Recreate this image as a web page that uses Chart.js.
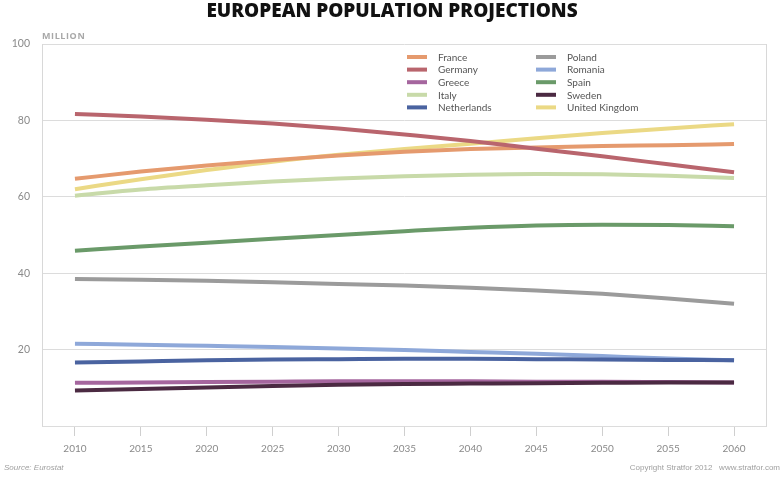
<!DOCTYPE html>
<html>
<head>
<meta charset="utf-8">
<script src="https://cdn.jsdelivr.net/npm/chart.js@4.4.1/dist/chart.umd.min.js"></script>
<style>
  html, body { margin: 0; padding: 0; background: #ffffff; }
  #wrap { width: 784px; height: 477px; position: relative; }
</style>
</head>
<body>
<div id="wrap"><canvas id="c" width="784" height="477"></canvas></div>
<script>
// ---- Data ----
const years = ['2010','2015','2020','2025','2030','2035','2040','2045','2050','2055','2060'];
const france      = [64.7, 66.6, 68.2, 69.6, 70.8, 71.8, 72.5, 72.9, 73.3, 73.5, 73.8];
const germany     = [81.7, 81.0, 80.2, 79.2, 77.9, 76.3, 74.6, 72.6, 70.6, 68.5, 66.4];
const greece      = [11.3, 11.4, 11.5, 11.6, 11.7, 11.7, 11.7, 11.6, 11.6, 11.5, 11.4];
const italy       = [60.3, 61.9, 63.0, 64.0, 64.8, 65.4, 65.8, 66.0, 65.9, 65.5, 64.9];
const netherlands = [16.6, 16.9, 17.2, 17.4, 17.5, 17.6, 17.6, 17.5, 17.4, 17.3, 17.2];
const poland      = [38.5, 38.3, 38.0, 37.6, 37.2, 36.8, 36.2, 35.5, 34.6, 33.4, 32.0];
const romania     = [21.5, 21.3, 21.0, 20.7, 20.3, 19.9, 19.4, 18.9, 18.3, 17.7, 17.2];
const spain       = [45.9, 47.0, 48.0, 49.0, 50.0, 51.0, 51.9, 52.5, 52.7, 52.6, 52.3];
const sweden      = [ 9.3,  9.7, 10.1, 10.5, 10.8, 11.0, 11.1, 11.2, 11.3, 11.4, 11.4];
const uk          = [62.0, 64.6, 67.0, 69.2, 71.0, 72.5, 73.9, 75.3, 76.7, 77.9, 79.0];
const countries   = ['France','Germany','Greece','Italy','Netherlands','Poland','Romania','Spain','Sweden','United Kingdom'];
const yTickValues = [20, 40, 60, 80, 100];

const seriesValues = [france, germany, greece, italy, netherlands, poland, romania, spain, sweden, uk];
const colors = ['#e59a6e','#b9656d','#a5669e','#c8daa9','#4a63a0','#9b9b9b','#8ea8d9','#6a9a69','#4b2a42','#ebd985'];
const drawOrder = [2, 1, 6, 4, 5, 7, 8, 9, 3, 10];

const datasets = countries.map((name, i) => ({
  label: name,
  data: seriesValues[i],
  borderColor: colors[i],
  backgroundColor: colors[i],
  borderWidth: 4,
  pointRadius: 0,
  pointHoverRadius: 0,
  cubicInterpolationMode: 'monotone',
  fill: false,
  order: drawOrder[i]
}));

const decor = {
  id: 'decor',
  beforeDatasetsDraw(chart) {
    const { ctx, chartArea: a } = chart;
    ctx.save();
    ctx.strokeStyle = '#d8d8d8';
    ctx.lineWidth = 1;
    ctx.beginPath();
    ctx.moveTo(Math.round(a.left) + 0.5, a.top);
    ctx.lineTo(Math.round(a.left) + 0.5, a.bottom + 0.5);
    ctx.moveTo(Math.round(a.right) - 0.5, a.top);
    ctx.lineTo(Math.round(a.right) - 0.5, a.bottom + 0.5);
    ctx.stroke();
    ctx.restore();
  },
  afterDraw(chart) {
    const { ctx, chartArea: a } = chart;
    ctx.save();
    // axis unit label
    ctx.fillStyle = '#a8a8a8';
    ctx.font = 'bold 9px "Open Sans"';
    if ('letterSpacing' in ctx) ctx.letterSpacing = '0.6px';
    ctx.textAlign = 'left';
    ctx.textBaseline = 'middle';
    ctx.fillText('MILLION', a.left, 36);
    if ('letterSpacing' in ctx) ctx.letterSpacing = '0px';

    // legend (two columns, column-major)
    const ds = chart.data.datasets;
    ctx.font = '10px Lato';
    ctx.textBaseline = 'middle';
    for (let i = 0; i < ds.length; i++) {
      const col = Math.floor(i / 5), row = i % 5;
      const sx = col === 0 ? 407 : 536;
      const y = 57 + row * 12.6;
      ctx.fillStyle = ds[i].borderColor;
      ctx.fillRect(sx, y - 2, 20, 4);
      ctx.fillStyle = '#555555';
      ctx.fillText(ds[i].label, sx + 31, y + 0.5);
    }

    // footer
    ctx.fillStyle = '#a0a0a0';
    ctx.font = 'italic 8px "Liberation Sans Narrow", "Liberation Sans"';
    ctx.textAlign = 'left';
    ctx.fillText('Source: Eurostat', 4, 468);
    ctx.textAlign = 'right';
    ctx.font = '8px "Liberation Sans Narrow", "Liberation Sans"';
    ctx.fillText('Copyright Stratfor 2012   www.stratfor.com', 780, 468);
    ctx.restore();
  }
};

new Chart(document.getElementById('c'), {
  type: 'line',
  data: { labels: years, datasets },
  plugins: [decor],
  options: {
    responsive: false,
    animation: false,
    devicePixelRatio: 1,
    layout: { padding: { top: 0, left: 0, right: 0, bottom: 0 } },
    plugins: {
      legend: { display: false },
      tooltip: { enabled: false },
      title: {
        display: true,
        text: 'EUROPEAN POPULATION PROJECTIONS',
        color: '#111111',
        font: { family: '"Open Sans"', size: 19, weight: '800' },
        padding: { top: 0, bottom: 21.2 }
      }
    },
    scales: {
      x: {
        type: 'category',
        offset: true,
        grid: { display: true, drawOnChartArea: false, offset: false, drawTicks: true, tickLength: 10, color: '#cfcfcf' },
        border: { display: false },
        ticks: { color: '#8a8a8a', font: { family: 'Lato', size: 10 }, padding: 7, maxRotation: 0, autoSkip: false },
        afterFit(scale) { scale.height = 51; }
      },
      y: {
        position: 'left',
        min: 0,
        max: 100,
        afterBuildTicks(scale) { scale.ticks = [0].concat(yTickValues).map(v => ({ value: v })); },
        grid: { color: '#dcdcdc', drawTicks: false, lineWidth: 1 },
        border: { display: false },
        ticks: {
          color: '#8a8a8a',
          font: { family: 'Lato', size: 10.5 },
          padding: 12,
          callback: (v) => (yTickValues.includes(v) ? String(v) : '')
        },
        afterFit(scale) { scale.width = 42; }
      },
      yRight: {
        position: 'right',
        display: true,
        min: 0,
        max: 100,
        grid: { display: false, drawOnChartArea: false },
        border: { display: false },
        ticks: { display: false },
        afterFit(scale) { scale.width = 17; }
      }
    }
  }
});
</script>
</body>
</html>
